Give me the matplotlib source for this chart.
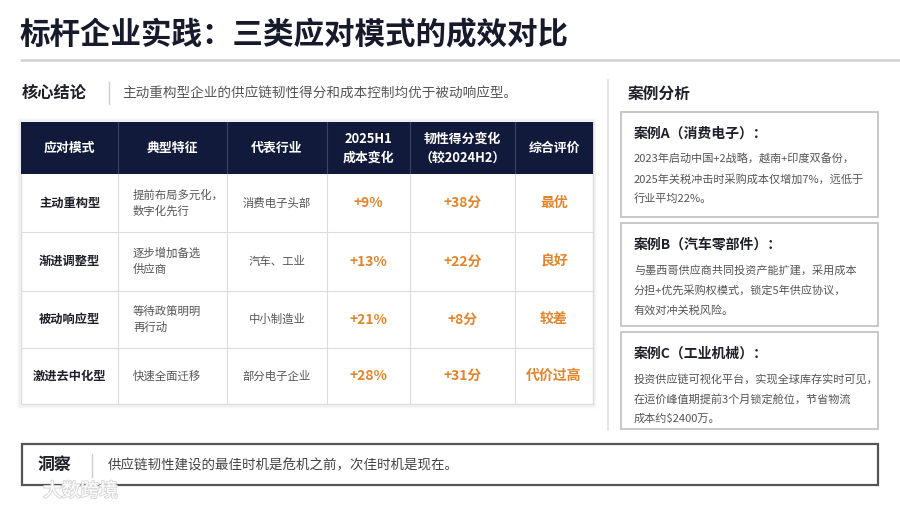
import matplotlib
matplotlib.use("Agg")
import matplotlib.pyplot as plt
from matplotlib.patches import Rectangle
import matplotlib.patheffects as pe

plt.rcParams['font.family'] = ['Noto Sans CJK SC', 'DejaVu Sans']

# ---------------- data ----------------
title = "标杆企业实践：三类应对模式的成效对比"
key_label = "核心结论"
key_text = "主动重构型企业的供应链韧性得分和成本控制均优于被动响应型。"

headers = ["应对模式", "典型特征", "代表行业", "2025H1\n成本变化", "韧性得分变化\n（较2024H2）", "综合评价"]
modes = ["主动重构型", "渐进调整型", "被动响应型", "激进去中化型"]
features = ["提前布局多元化，\n数字化先行", "逐步增加备选\n供应商", "等待政策明明\n再行动", "快速全面迁移"]
industries = ["消费电子头部", "汽车、工业", "中小制造业", "部分电子企业"]
cost_change = [9, 13, 21, 28]          # %
resilience_change = [38, 22, 8, 31]    # 分
ratings = ["最优", "良好", "较差", "代价过高"]

case_header = "案例分析"
case_titles = ["案例A（消费电子）：", "案例B（汽车零部件）：", "案例C（工业机械）："]
case_bodies = [
    ["2023年启动中国+2战略，越南+印度双备份，",
     "2025年关税冲击时采购成本仅增加7%，远低于",
     "行业平均22%。"],
    ["与墨西哥供应商共同投资产能扩建，采用成本",
     "分担+优先采购权模式，锁定5年供应协议，",
     "有效对冲关税风险。"],
    ["投资供应链可视化平台，实现全球库存实时可见，",
     "在运价峰值期提前3个月锁定舱位，节省物流",
     "成本约$2400万。"],
]

insight_label = "洞察"
insight_text = "供应链韧性建设的最佳时机是危机之前，次佳时机是现在。"
watermark = "大数跨境"

# ---------------- styles ----------------
NAVY = "#111a3b"
ORANGE = "#e0852e"
DARK = "#1f1f2a"
GRAY = "#555555"
LINE = "#dcdcdc"

fig = plt.figure(figsize=(9, 5.07), dpi=100)
ax = fig.add_axes([0, 0, 1, 1])
ax.set_xlim(0, 900)
ax.set_ylim(507, 0)
ax.axis("off")

# title
ax.text(20, 35, title, fontsize=22, fontweight="bold", color="#161a2b", va="center", ha="left")
ax.plot([20, 900], [60, 60], color="#d5d5d5", lw=2, solid_capstyle="butt")

# key conclusion
ax.text(22, 93, key_label, fontsize=11.7, fontweight="bold", color=DARK, va="center")
ax.plot([109, 109], [82, 104], color="#cccccc", lw=1)
ax.text(122, 94, key_text, fontsize=9.8, color=GRAY, va="center")

# separator between left and right
ax.plot([608, 608], [80, 430], color="#e2e2e2", lw=1.2)

# table
col_edges = [21, 118, 227, 327, 410, 515, 593]
header_top, header_bot = 122, 174
row_edges = [174, 232, 291, 348, 404]

# soft shadow
for i, a in enumerate([0.035, 0.022, 0.012]):
    ax.add_patch(Rectangle((col_edges[0] - 1 - i, header_top - 1 - i),
                           col_edges[-1] - col_edges[0] + 2 + 2 * i,
                           row_edges[-1] - header_top + 3 + 2 * i,
                           facecolor="none", edgecolor="black", alpha=a, lw=1.5))
ax.add_patch(Rectangle((col_edges[0], header_top), col_edges[-1] - col_edges[0],
                       row_edges[-1] - header_top, facecolor="white", edgecolor=LINE, lw=1))
ax.add_patch(Rectangle((col_edges[0], header_top), col_edges[-1] - col_edges[0],
                       header_bot - header_top, facecolor=NAVY, edgecolor="none"))

for x in col_edges[1:-1]:
    ax.plot([x, x], [header_top, header_bot], color="#3a4468", lw=0.8)
    ax.plot([x, x], [header_bot, row_edges[-1]], color=LINE, lw=0.8)
for y in row_edges[1:-1]:
    ax.plot([col_edges[0], col_edges[-1]], [y, y], color=LINE, lw=0.8)

centers = [(col_edges[i] + col_edges[i + 1]) / 2 for i in range(len(col_edges) - 1)]
hy = (header_top + header_bot) / 2
for c, h in zip(centers, headers):
    ax.text(c, hy, h, fontsize=9.3, fontweight="bold", color="white", ha="center", va="center",
            linespacing=1.45)

for r in range(len(modes)):
    cy = (row_edges[r] + row_edges[r + 1]) / 2
    ax.text(centers[0], cy, modes[r], fontsize=8.8, fontweight="bold", color=DARK, ha="center", va="center")
    ax.text(133, cy, features[r], fontsize=8.2, color=GRAY, ha="left", va="center", linespacing=1.55)
    ax.text(centers[2], cy, industries[r], fontsize=8.2, color=GRAY, ha="center", va="center")
    ax.text(centers[3], cy, f"+{cost_change[r]}%", fontsize=10, fontweight="bold", color=ORANGE,
            ha="center", va="center")
    ax.text(centers[4], cy, f"+{resilience_change[r]}分", fontsize=10, fontweight="bold", color=ORANGE,
            ha="center", va="center")
    ax.text(centers[5], cy, ratings[r], fontsize=10, fontweight="bold", color=ORANGE,
            ha="center", va="center")

# case analysis
ax.text(628, 94, case_header, fontsize=11.3, fontweight="bold", color=DARK, va="center")
box_tops = [112, 223, 332]
box_bots = [217, 326, 429]
for t, b, ct, body in zip(box_tops, box_bots, case_titles, case_bodies):
    ax.add_patch(Rectangle((621, t), 878 - 621, b - t, facecolor="white", edgecolor="#c4c4c4", lw=1.3))
    ax.text(634, t + 22, ct, fontsize=10, fontweight="bold", color=DARK, va="center")
    for k, line in enumerate(body):
        ax.text(634, t + 47 + 20 * k, line, fontsize=8.0, color=GRAY, va="center")

# insight box
ax.add_patch(Rectangle((22, 444), 878 - 22, 485 - 444, facecolor="white", edgecolor="#555555", lw=1.6))
ax.text(38, 465, insight_label, fontsize=12.2, fontweight="bold", color=DARK, va="center")
ax.plot([92, 92], [454, 477], color="#cccccc", lw=1)
ax.text(108, 465, insight_text, fontsize=9.7, color="#444444", va="center")

# watermark
ax.text(43, 491, watermark, fontsize=13.5, color="white", va="center",
        path_effects=[pe.withStroke(linewidth=1.5, foreground="#dadada")])

fig.savefig("out.png", dpi=100, facecolor="white")
